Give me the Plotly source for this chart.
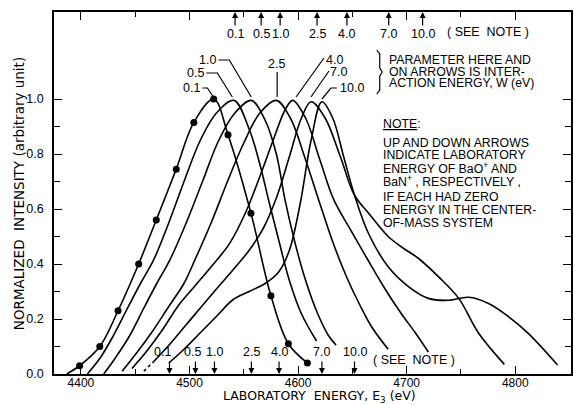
import plotly.graph_objects as go

# ---------------- data ----------------
# measured points on the W = 0.1 eV curve
dots_x = [4398.8, 4417.4, 4434.2, 4453.2, 4469.4, 4487.8, 4504.0, 4522.3, 4535.5, 4556.6, 4575.0, 4591.1, 4608.6]
dots_y = [0.03, 0.10, 0.23, 0.40, 0.56, 0.745, 0.915, 1.0, 0.87, 0.585, 0.285, 0.11, 0.04]

w01_x = [4387, 4398.8, 4417.4, 4434.2, 4453.2, 4469.4, 4487.8, 4504.0, 4522.3, 4535.5, 4556.6, 4575.0, 4591.1, 4608.6]
w01_y = [0.0, 0.03, 0.10, 0.23, 0.40, 0.56, 0.745, 0.915, 1.0, 0.87, 0.585, 0.285, 0.11, 0.04]

w05_x = [4406, 4418, 4430, 4443, 4455, 4467, 4480, 4495, 4510, 4525, 4541, 4555, 4565, 4573, 4582, 4592, 4603, 4617]
w05_y = [0.0, 0.06, 0.14, 0.24, 0.33, 0.415, 0.54, 0.70, 0.85, 0.95, 0.995, 0.89, 0.76, 0.63, 0.49, 0.34, 0.22, 0.12]

w10_x = [4421, 4432, 4445, 4458, 4470, 4482, 4496, 4512, 4527, 4542, 4557, 4570, 4580, 4588, 4597, 4607, 4618, 4628, 4635]
w10_y = [0.0, 0.06, 0.14, 0.24, 0.33, 0.415, 0.54, 0.70, 0.85, 0.95, 0.995, 0.92, 0.80, 0.633, 0.48, 0.34, 0.22, 0.14, 0.105]

w25_x = [4438, 4450, 4465, 4480, 4495, 4505, 4520, 4535, 4550, 4565, 4580, 4593, 4606, 4619, 4632, 4645, 4657, 4668, 4683]
w25_y = [0.01, 0.07, 0.15, 0.24, 0.33, 0.415, 0.55, 0.70, 0.84, 0.95, 0.995, 0.93, 0.79, 0.633, 0.48, 0.35, 0.25, 0.17, 0.09]

w40_x = [4447, 4460, 4475, 4490, 4505, 4520, 4537, 4552, 4565, 4578, 4588, 4595, 4607, 4620, 4633, 4649, 4665, 4680, 4695, 4708, 4720]
w40_y = [0.02, 0.08, 0.16, 0.25, 0.32, 0.39, 0.475, 0.59, 0.72, 0.86, 0.96, 0.995, 0.93, 0.78, 0.633, 0.52, 0.41, 0.31, 0.22, 0.15, 0.08]

w70_dash_x = [4458, 4467]
w70_dash_y = [0.01, 0.045]
w70_x = [4467, 4480, 4495, 4510, 4525, 4540, 4555, 4568, 4580, 4592, 4603, 4612, 4625, 4639, 4652, 4665, 4683, 4696, 4711, 4729, 4748, 4766, 4790]
w70_y = [0.045, 0.10, 0.17, 0.24, 0.31, 0.378, 0.45, 0.53, 0.64, 0.79, 0.93, 0.99, 0.93, 0.79, 0.65, 0.585, 0.50, 0.46, 0.42, 0.355, 0.275, 0.15, 0.035]

w100_x = [4481, 4495, 4510, 4525, 4540, 4555, 4570, 4582, 4592, 4602, 4612, 4622, 4632, 4642, 4652, 4665, 4683, 4702, 4720, 4738, 4757, 4775, 4794, 4812, 4839]
w100_y = [0.04, 0.09, 0.15, 0.21, 0.27, 0.30, 0.33, 0.37, 0.45, 0.62, 0.85, 0.99, 0.93, 0.79, 0.65, 0.51, 0.39, 0.317, 0.275, 0.268, 0.279, 0.257, 0.208, 0.148, 0.033]

w_labels = ["0.1", "0.5", "1.0", "2.5", "4.0", "7.0", "10.0"]
# up arrows (BaO+) and down arrows (BaN+) lab energies, eV
up_arrow_x = [4542, 4566, 4583.5, 4617.5, 4645, 4683.5, 4714.7]
down_arrow_x = [4481.6, 4505.5, 4523, 4557, 4582.5, 4622, 4652]

x_ticks = [4400, 4500, 4600, 4700, 4800]
x_minor = [4450, 4550, 4650, 4750]
y_ticks = [0.0, 0.2, 0.4, 0.6, 0.8, 1.0]
y_minor = [0.1, 0.3, 0.5, 0.7, 0.9]

# ---------------- pixel helpers for text placement ----------------
def px2x(px):
    return 4400 + (px - 81) / 1.09

def py2y(py):
    return (374 - py) / 275

NUMF = dict(family="Liberation Sans", size=12.5, color="black")
TICKF = dict(family="Liberation Sans", size=12, color="black")
TXTF = dict(family="Liberation Sans", size=12.3, color="black")
C = dict(xanchor="center", yanchor="middle")

fig = go.Figure()
LINE = dict(color="black", width=1.6, shape="spline", smoothing=1.0)
for xs, ys in [(w01_x, w01_y), (w05_x, w05_y), (w10_x, w10_y), (w25_x, w25_y),
               (w40_x, w40_y), (w70_x, w70_y), (w100_x, w100_y)]:
    fig.add_trace(go.Scatter(x=xs, y=ys, mode="lines", line=LINE, hoverinfo="skip"))
fig.add_trace(go.Scatter(x=w70_dash_x, y=w70_dash_y, mode="lines",
                         line=dict(color="black", width=1.6, dash="3px,3px"), hoverinfo="skip"))
fig.add_trace(go.Scatter(x=dots_x, y=dots_y, mode="markers",
                         marker=dict(color="black", size=7), hoverinfo="skip"))

# arrows
for v, lab in zip(up_arrow_x, w_labels):
    fig.add_annotation(x=v, y=1, xref="x", yref="paper", ax=0, ay=15, text="",
                       showarrow=True, arrowhead=2, arrowsize=1, arrowwidth=1.2,
                       arrowcolor="black", standoff=0)
    fig.add_annotation(x=v, y=py2y(34), text=lab, showarrow=False, font=NUMF, **C)
bottom_shift = [-7, -3, 0, 0, 0, 0, 0]
for v, lab, sh in zip(down_arrow_x, w_labels, bottom_shift):
    fig.add_annotation(x=v, y=0, xref="x", yref="y", ax=0, ay=-14, text="",
                       showarrow=True, arrowhead=2, arrowsize=1, arrowwidth=1.2,
                       arrowcolor="black", standoff=0)
    fig.add_annotation(x=v, y=py2y(352), text=lab, showarrow=False, font=NUMF, xshift=sh, **C)

fig.add_annotation(x=px2x(490), y=py2y(32), text="( SEE  NOTE )", showarrow=False, font=NUMF, **C)
fig.add_annotation(x=px2x(415), y=py2y(360), text="( SEE  NOTE )", showarrow=False, font=NUMF, **C)

# peak labels and leader lines
peak_lab_pos = [(192, 88), (196.5, 73), (208, 60), (277, 64), (336, 59.5), (340, 71.5), (353, 88)]
for (px, py), lab in zip(peak_lab_pos, w_labels):
    fig.add_annotation(x=px2x(px), y=py2y(py), text=lab, showarrow=False, font=NUMF, **C)

leaders = [
    [(203, 88), (208, 88), (214, 97)],
    [(207, 73), (218, 73), (233, 97)],
    [(219, 60), (230, 60), (252, 97)],
    [(278, 72), (278, 97)],
    [(325, 58), (297, 97)],
    [(330, 71), (312, 97)],
    [(338, 88), (332, 88), (323, 99)],
]
for pts in leaders:
    path = "M " + " L ".join(f"{px2x(a)},{py2y(b)}" for a, b in pts)
    fig.add_shape(type="path", path=path, xref="x", yref="y",
                  line=dict(color="black", width=1.2))

# brace
bpts = [(378, 50), (381, 54), (381, 68), (383.5, 72), (381, 76), (381, 90), (378, 94)]
bpath = "M " + " L ".join(f"{px2x(a)},{py2y(b)}" for a, b in bpts)
fig.add_shape(type="path", path=bpath, xref="x", yref="y", line=dict(color="black", width=1.2))

param_lines = [("PARAMETER HERE AND", 59.5), ("ON ARROWS IS INTER-", 71.5), ("ACTION ENERGY, W (eV)", 82.5)]
for t, py in param_lines:
    fig.add_annotation(x=px2x(388), y=py2y(py), text=t, showarrow=False, font=TXTF,
                       xanchor="left", yanchor="middle")

note_lines = [("<u>NOTE</u>:", 124), ("UP AND DOWN ARROWS", 142.5), ("INDICATE LABORATORY", 155),
              ("ENERGY OF BaO<sup>+</sup> AND", 167.5), ("BaN<sup>+</sup> , RESPECTIVELY ,", 181),
              ("IF EACH HAD ZERO", 197), ("ENERGY IN THE CENTER-", 210), ("OF-MASS SYSTEM", 223)]
for t, py in note_lines:
    fig.add_annotation(x=px2x(382), y=py2y(py), text=t, showarrow=False, font=TXTF,
                       xanchor="left", yanchor="middle")

# axis titles
fig.add_annotation(x=(320.5 - 54) / 519, y=-(396 - 374) / 362, xref="paper", yref="paper",
                   text="LABORATORY  ENERGY, E<sub>3</sub> (eV)", showarrow=False,
                   font=dict(family="DejaVu Sans", size=12.5, color="black"), **C)
fig.add_annotation(x=-(54 - 19) / 519, y=(374 - 194) / 362, xref="paper", yref="paper",
                   text="NORMALIZED  INTENSITY (arbitrary unit)", textangle=-90, showarrow=False,
                   font=dict(family="DejaVu Sans", size=13.5, color="black"), **C)

fig.update_layout(
    width=574, height=404, margin=dict(l=54, r=1, t=12, b=30),
    paper_bgcolor="white", plot_bgcolor="white", showlegend=False,
    xaxis=dict(range=[px2x(54), px2x(573)], showline=True, linecolor="black", linewidth=1.5,
               mirror="ticks", ticks="inside", ticklen=8, tickwidth=1.2, tickcolor="black",
               tickvals=x_ticks, ticktext=[str(v) for v in x_ticks], tickfont=TICKF,
               ticklabelstandoff=-3, showgrid=False, zeroline=False,
               minor=dict(tickmode="array", tickvals=x_minor, ticks="inside", ticklen=5,
                          tickwidth=1.2, tickcolor="black", showgrid=False)),
    yaxis=dict(range=[0, py2y(12)], showline=True, linecolor="black", linewidth=1.5,
               mirror="ticks", ticks="inside", ticklen=8, tickwidth=1.2, tickcolor="black",
               tickvals=y_ticks, ticktext=[f"{v:.1f}" for v in y_ticks], tickfont=NUMF,
               ticklabelstandoff=6, showgrid=False, zeroline=False,
               minor=dict(tickmode="array", tickvals=y_minor, ticks="inside", ticklen=6,
                          tickwidth=1.2, tickcolor="black", showgrid=False)),
)

fig.write_html("out.html")
